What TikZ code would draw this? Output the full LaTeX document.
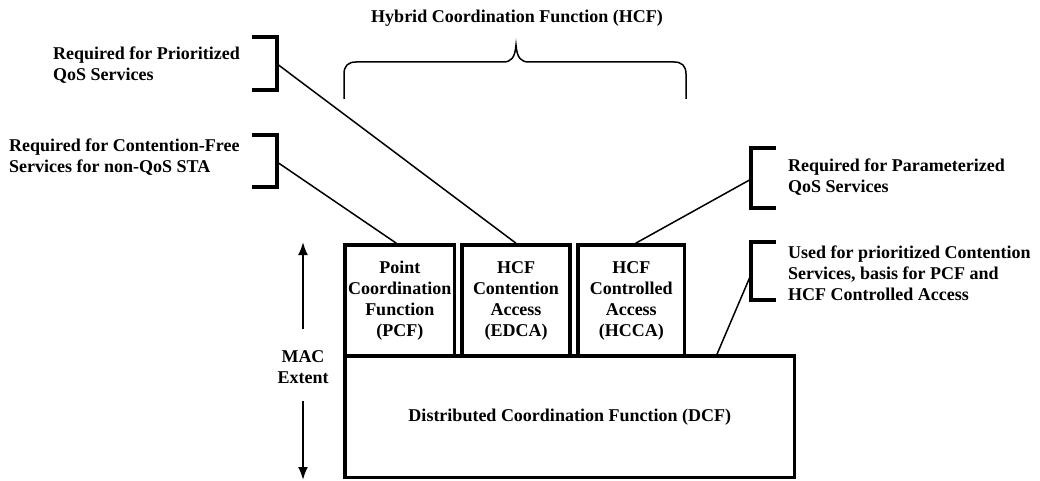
\documentclass[tikz,border=0pt]{standalone}
\usepackage{fontspec}
\setmainfont{Liberation Serif}
\usetikzlibrary{arrows.meta,calc}
\begin{document}
\begin{tikzpicture}[x=1pt,y=-1pt,
  txt/.style={font=\fontsize{18}{21}\selectfont\bfseries, inner sep=0pt},
  lbl/.style={txt, align=left, anchor=west},
  fnbox/.style={txt, draw, line width=3.5pt, align=center},
  bracket/.style={line width=3.5pt, line join=miter},
  link/.style={line width=1.5pt},
  brace/.style={line width=1.5pt},
  extent/.style={line width=2pt, -{Latex[length=13pt,width=10pt]}}]
\useasboundingbox (0,0) rectangle (1040,481);

% MAC functions
\node[fnbox, minimum width=449.5pt, minimum height=121.5pt] (dcf) at (569.75,416.75)
  {Distributed Coordination Function (DCF)};
\node[fnbox, minimum width=109.5pt, minimum height=111pt] (pcf) at (399.75,300.5)
  {Point\\Coordination\\Function\\(PCF)};
\node[fnbox, minimum width=108pt, minimum height=111pt] (edca) at (516,300.5)
  {HCF\\Contention\\Access\\(EDCA)};
\node[fnbox, minimum width=106.5pt, minimum height=111pt] (hcca) at (631.25,300.5)
  {HCF\\Controlled\\Access\\(HCCA)};

% title and brace over the HCF part
\node[txt] (hcf) at (517,18) {Hybrid Coordination Function (HCF)};
\draw[brace] (344,99) -- (344,74) .. controls (344,66) and (348,62) .. (356,62)
  -- (503,62) .. controls (511,62) and (515,58) .. (516,45)
  .. controls (517,58) and (521,62) .. (529,62)
  -- (674,62) .. controls (682,62) and (686,66) .. (686,74) -- (686,99);

% annotations
\node[lbl] (prio) at (53,65.5) {Required for Prioritized\\QoS Services};
\node[lbl] (cfree) at (9,157) {Required for Contention-Free\\Services for non-QoS STA};
\node[lbl] (param) at (788,177) {Required for Parameterized\\QoS Services};
\node[lbl] (used) at (788,273) {Used for prioritized Contention\\Services, basis for PCF and\\HCF Controlled Access};

% brackets
\draw[bracket] (252,37) -- (277,37) -- (277,90) -- (252,90);
\draw[bracket] (252,135) -- (277,135) -- (277,187) -- (252,187);
\draw[bracket] (776,148) -- (751,148) -- (751,208) -- (776,208);
\draw[bracket] (776,242) -- (751,242) -- (751,300) -- (776,300);
\coordinate (bprio) at (278.5,65);
\coordinate (bcfree) at (278.5,163);
\coordinate (bparam) at (749.5,180);
\coordinate (bused) at (749.5,278);

% connectors
\draw[link] (bprio) -- (edca.north);
\draw[link] (bcfree) -- ($(pcf.north west)!0.47!(pcf.north east)$);
\draw[link] (bparam) -- ($(hcca.north west)!0.54!(hcca.north east)$);
\draw[link] (bused) -- ($(dcf.north west)!0.825!(dcf.north east)$);

% MAC extent
\node[txt, align=center] (mac) at (303,367.5) {MAC\\Extent};
\coordinate (mactop) at (303,242);
\coordinate (macbot) at (303,480);
\draw[extent] ($(mac.north)+(0,-22)$) -- (mactop);
\draw[extent] ($(mac.south)+(0,17)$) -- (macbot);
\end{tikzpicture}
\end{document}
